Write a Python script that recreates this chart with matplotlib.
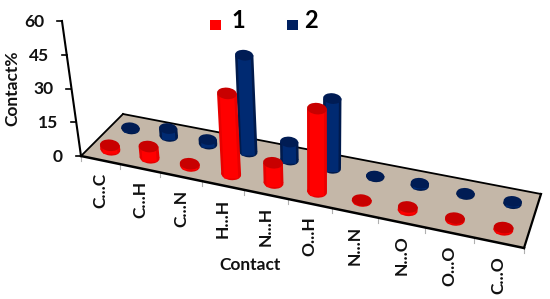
import numpy as np
import matplotlib
matplotlib.use('Agg')
import matplotlib.pyplot as plt
from matplotlib.patches import Ellipse, Polygon, Rectangle

# Data
contacts = ['C...C', 'C...H', 'C...N', 'H...H', 'N...H', 'O...H', 'N...N', 'N...O', 'O...O', 'C...O']
series1 = [2, 5, 1, 36, 9, 37, 0.4, 1.5, 0.8, 1]
series2 = [0.5, 3.5, 2, 43, 8, 31, 0.3, 1, 0.5, 1]
y_ticks = [0, 15, 30, 45, 60]

plt.rcParams['font.family'] = ['Lato', 'DejaVu Sans']

fig = plt.figure(figsize=(5.5, 2.99), dpi=100)
ax = fig.add_axes([0, 0, 1, 1])
ax.set_xlim(0, 550)
ax.set_ylim(299, 0)
ax.axis('off')

# floor corners in picture coords, solved into a perspective mapping
n = len(contacts)
src = [(0, 0), (n, 0), (0, 1), (n, 1)]
dst = [(81, 156), (524, 248), (123, 114), (541, 194)]
A = []
b = []
for (u, v), (x, y) in zip(src, dst):
    A.append([u, v, 1, 0, 0, 0, -u * x, -v * x])
    A.append([0, 0, 0, u, v, 1, -u * y, -v * y])
    b += [x, y]
h = np.linalg.solve(np.array(A, float), np.array(b, float))


def floor(u, v):
    d = h[6] * u + h[7] * v + 1
    return (h[0] * u + h[1] * v + h[2]) / d, (h[3] * u + h[4] * v + h[5]) / d


def lift(x, y, z):
    # vertical lines spread out slightly towards the top
    px = z * 2.25
    return x + 5.9e-4 * (x - 320) * px, y - px


def cylinder(i, v, val, dark, side, shade):
    x0, y0 = floor(i + 0.5, v)
    x1, y1 = lift(x0, y0, val)
    w = 17.5 + 3 * (1 - v)
    e_h = w * 0.58
    z = 3 + i * 0.01
    ax.add_patch(Ellipse((x0, y0), w, e_h, angle=6, fc=shade, ec='none', zorder=z))
    ax.add_patch(Polygon([(x0 - w / 2, y0), (x0 + w / 2, y0), (x1 + w / 2, y1), (x1 - w / 2, y1)],
                         fc=shade, ec='none', zorder=z))
    # lighter middle of the body
    ax.add_patch(Polygon([(x0 - w * 0.36, y0 + e_h * 0.35), (x0 + w * 0.36, y0 + e_h * 0.35),
                          (x1 + w * 0.36, y1), (x1 - w * 0.36, y1)],
                         fc=side, ec='none', zorder=z))
    ax.add_patch(Ellipse((x1, y1), w, e_h, angle=6, fc=dark, ec='none', zorder=z))


# floor
corners = [floor(0, 0), floor(n, 0), floor(n, 1), floor(0, 1)]
ax.add_patch(Polygon(corners, closed=True, fc='#c4b7a8', ec='none', zorder=1))
ax.plot(*zip(floor(0, 0), floor(n, 0)), color='black', lw=1.8, zorder=2)
ax.plot(*zip(floor(0, 1), floor(n, 1)), color='black', lw=1.3, zorder=2)
ax.plot(*zip(floor(0, 0), floor(0, 1)), color='black', lw=1.3, zorder=2)
ax.plot(*zip(floor(n, 0), floor(n, 1)), color='black', lw=1.6, zorder=2)

# category ticks and labels
for i in range(n + 1):
    x, y = floor(i, 0)
    ax.plot([x, x], [y, y + 5], color='#b0b0b0', lw=0.8, zorder=1)
for i, name in enumerate(contacts):
    x, y = floor(i + 0.5, 0)
    ax.text(x, y + 13, name, rotation=90, ha='center', va='top', fontsize=12.5, fontweight='bold', color='#111111')

# value axis
x0, y0 = floor(0, 0)
ax.plot(*zip(lift(x0, y0, 0), lift(x0, y0, 60)), color='black', lw=1.5, zorder=2)
for t in y_ticks:
    x, y = lift(x0, y0, t)
    ax.plot([x - 5, x], [y, y], color='black', lw=1.2, zorder=2)
    ax.text(x - 18, y + 1, str(t), ha='right', va='center', fontsize=12.5, fontweight='bold', color='#111111')

# bars, back row first
for i, val in enumerate(series2):
    cylinder(i, 0.72, val, '#001c54', '#002a72', '#001a4c')
for i, val in enumerate(series1):
    cylinder(i, 0.23, val, '#c80000', '#ff0000', '#e80000')

# legend
ax.add_patch(Rectangle((210, 20), 11, 10, fc='#ff0000', ec='none'))
ax.text(231, 21, '1', ha='left', va='center', fontsize=17, fontweight='bold')
ax.add_patch(Rectangle((287, 20), 11, 10, fc='#002060', ec='none'))
ax.text(304, 21, '2', ha='left', va='center', fontsize=17, fontweight='bold')

ax.text(250, 265, 'Contact', ha='center', va='center', fontsize=12.5, fontweight='bold', color='#111111')
ax.text(12, 88, 'Contact%', rotation=90, ha='center', va='center', fontsize=12.5, fontweight='bold', color='#111111')

fig.savefig('out.png', dpi=100)
